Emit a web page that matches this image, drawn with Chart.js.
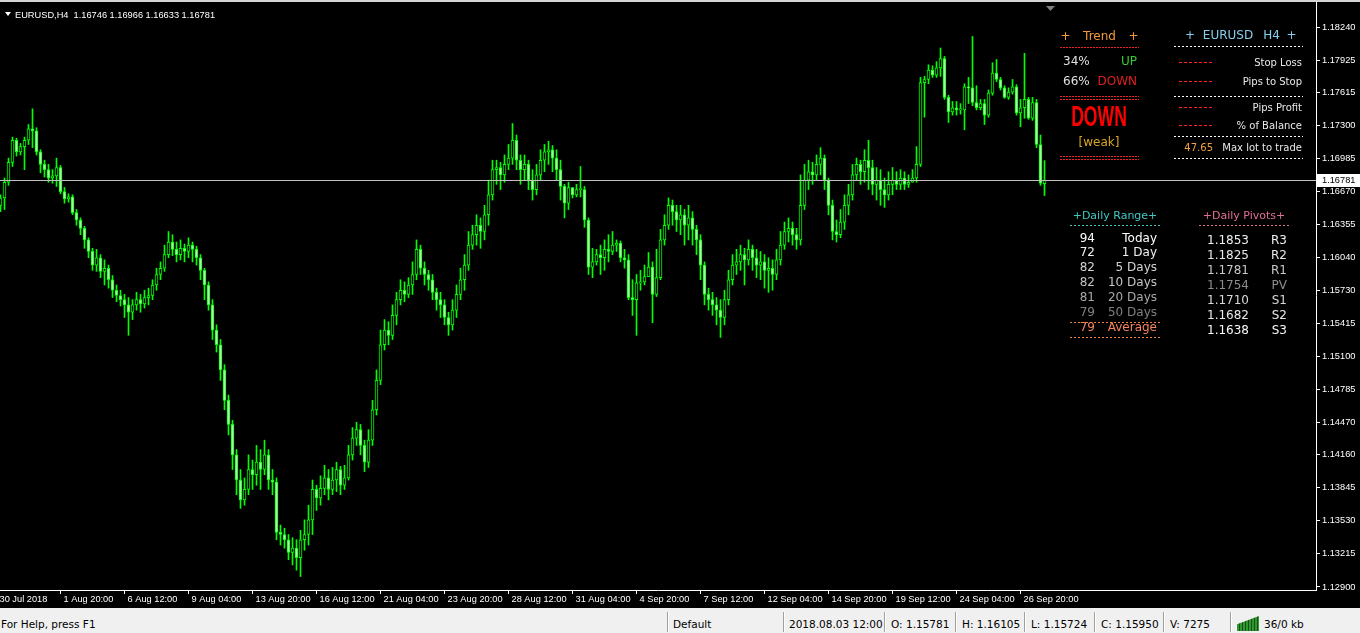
<!DOCTYPE html>
<html>
<head>
<meta charset="utf-8">
<title>EURUSD,H4</title>
<script src="https://cdn.jsdelivr.net/npm/chart.js@4.4.1/dist/chart.umd.min.js"></script>
<style>
  html, body { margin: 0; padding: 0; background: #000; width: 1360px; height: 633px; overflow: hidden; }
  #wrap { position: relative; width: 1360px; height: 608px; }
  #topline { position: absolute; left: 0; top: 0; width: 1360px; height: 2px; background: #d4d4d4; }
  #status { position: absolute; left: 0; top: 608px; width: 1360px; height: 25px; background: #f0f0f0;
            font: 10.5px "DejaVu Sans", sans-serif; color: #000; }
  #status span { position: absolute; top: 10px; line-height: 12px; white-space: nowrap; }
  #status .sep { position: absolute; top: 4px; width: 1px; height: 20px; background: #a0a0a0; border-right: 1px solid #fff; }
  #status .icon { position: absolute; left: 1237px; top: 8px; width: 22px; height: 15px;
                  background: repeating-linear-gradient(90deg, #2e9a2e 0 2px, #1c4d1c 2px 3px);
                  clip-path: polygon(0 55%, 100% 0, 100% 100%, 0 100%); }
</style>
</head>
<body>
<div id="wrap">
  <canvas id="chart" width="1360" height="608"></canvas>
  <div id="topline"></div>
</div>
<div id="status">
  <span style="left:1px">For Help, press F1</span>
  <div class="sep" style="left:667px"></div>
  <span style="left:673px">Default</span>
  <div class="sep" style="left:783px"></div>
  <span style="left:789px">2018.08.03 12:00</span>
  <div class="sep" style="left:884px"></div>
  <span style="left:891px">O: 1.15781</span>
  <div class="sep" style="left:955px"></div>
  <span style="left:962px">H: 1.16105</span>
  <div class="sep" style="left:1024px"></div>
  <span style="left:1031px">L: 1.15724</span>
  <div class="sep" style="left:1094px"></div>
  <span style="left:1101px">C: 1.15950</span>
  <div class="sep" style="left:1163px"></div>
  <span style="left:1170px">V: 7275</span>
  <div class="sep" style="left:1230px"></div>
  <div class="icon"></div>
  <span style="left:1264px">36/0 kb</span>
</div>
<script>
// EURUSD H4 bars, one entry per candle (bar 0 = leftmost)
const opens = [
  1.1654, 1.1661, 1.1676, 1.1695, 1.1716, 1.1705, 1.1710, 1.1716, 1.1727, 1.1725,
  1.1705, 1.1693, 1.1688, 1.1680, 1.1682, 1.1690, 1.1667, 1.1660, 1.1662, 1.1647,
  1.1640, 1.1632, 1.1621, 1.1610, 1.1597, 1.1604, 1.1591, 1.1594, 1.1583, 1.1573,
  1.1568, 1.1564, 1.1559, 1.1552, 1.1559, 1.1564, 1.1560, 1.1566, 1.1568, 1.1578,
  1.1588, 1.1594, 1.1607, 1.1619, 1.1612, 1.1607, 1.1613, 1.1610, 1.1616, 1.1612,
  1.1604, 1.1592, 1.1578, 1.1559, 1.1535, 1.1521, 1.1497, 1.1468, 1.1445, 1.1416,
  1.1392, 1.1373, 1.1383, 1.1402, 1.1397, 1.1409, 1.1402, 1.1416, 1.1392, 1.1390,
  1.1342, 1.1340, 1.1335, 1.1323, 1.1327, 1.1318, 1.1335, 1.1340, 1.1354, 1.1383,
  1.1375, 1.1384, 1.1394, 1.1383, 1.1392, 1.1402, 1.1387, 1.1394, 1.1416, 1.1432,
  1.1440, 1.1425, 1.1409, 1.1430, 1.1459, 1.1487, 1.1521, 1.1535, 1.1530, 1.1549,
  1.1564, 1.1573, 1.1569, 1.1578, 1.1588, 1.1612, 1.1594, 1.1588, 1.1583, 1.1571,
  1.1564, 1.1559, 1.1547, 1.1540, 1.1554, 1.1569, 1.1583, 1.1597, 1.1616, 1.1626,
  1.1635, 1.1629, 1.1645, 1.1664, 1.1688, 1.1690, 1.1683, 1.1693, 1.1699, 1.1716,
  1.1697, 1.1688, 1.1693, 1.1678, 1.1669, 1.1683, 1.1697, 1.1705, 1.1707, 1.1699,
  1.1688, 1.1672, 1.1656, 1.1671, 1.1664, 1.1669, 1.1669, 1.1640, 1.1595, 1.1600,
  1.1607, 1.1604, 1.1612, 1.1610, 1.1616, 1.1618, 1.1604, 1.1602, 1.1566, 1.1564,
  1.1580, 1.1581, 1.1586, 1.1595, 1.1569, 1.1585, 1.1621, 1.1635, 1.1654, 1.1648,
  1.1640, 1.1645, 1.1635, 1.1642, 1.1631, 1.1621, 1.1597, 1.1569, 1.1564, 1.1559,
  1.1554, 1.1547, 1.1564, 1.1583, 1.1597, 1.1600, 1.1607, 1.1602, 1.1612, 1.1604,
  1.1597, 1.1600, 1.1592, 1.1594, 1.1588, 1.1602, 1.1616, 1.1629, 1.1632, 1.1626,
  1.1621, 1.1654, 1.1678, 1.1686, 1.1683, 1.1693, 1.1699, 1.1678, 1.1654, 1.1629,
  1.1626, 1.1638, 1.1654, 1.1664, 1.1683, 1.1693, 1.1686, 1.1697, 1.1690, 1.1674,
  1.1678, 1.1669, 1.1664, 1.1674, 1.1678, 1.1674, 1.1680, 1.1674, 1.1676, 1.1680,
  1.1693, 1.1771, 1.1774, 1.1783, 1.1778, 1.1785, 1.1794, 1.1757, 1.1743, 1.1747,
  1.1745, 1.1745, 1.1767, 1.1766, 1.1752, 1.1747, 1.1751, 1.1740, 1.1761, 1.1780,
  1.1774, 1.1766, 1.1757, 1.1762, 1.1767, 1.1742, 1.1747, 1.1755, 1.1737, 1.1752,
  1.1712, 1.16746
];
const highs = [
  1.1664, 1.1680, 1.1699, 1.1719, 1.1718, 1.1713, 1.1719, 1.1731, 1.1746, 1.1728,
  1.1707, 1.1697, 1.1693, 1.1688, 1.1699, 1.1692, 1.1671, 1.1665, 1.1664, 1.1650,
  1.1642, 1.1634, 1.1623, 1.1613, 1.1612, 1.1607, 1.1602, 1.1597, 1.1587, 1.1578,
  1.1573, 1.1569, 1.1566, 1.1564, 1.1571, 1.1569, 1.1573, 1.1575, 1.1583, 1.1594,
  1.1600, 1.1616, 1.1629, 1.1626, 1.1619, 1.1621, 1.1617, 1.1623, 1.1619, 1.1615,
  1.1607, 1.1594, 1.1581, 1.1564, 1.1540, 1.1526, 1.1502, 1.1473, 1.1449, 1.1421,
  1.1402, 1.1394, 1.1416, 1.1411, 1.1425, 1.1421, 1.1430, 1.1421, 1.1402, 1.1394,
  1.1349, 1.1346, 1.1340, 1.1337, 1.1335, 1.1344, 1.1354, 1.1368, 1.1392, 1.1387,
  1.1396, 1.1406, 1.1402, 1.1404, 1.1409, 1.1405, 1.1406, 1.1425, 1.1442, 1.1447,
  1.1445, 1.1430, 1.1440, 1.1468, 1.1497, 1.1535, 1.1545, 1.1543, 1.1559, 1.1571,
  1.1583, 1.1581, 1.1585, 1.1600, 1.1621, 1.1616, 1.1600, 1.1592, 1.1588, 1.1575,
  1.1571, 1.1564, 1.1552, 1.1564, 1.1578, 1.1594, 1.1607, 1.1629, 1.1635, 1.1645,
  1.1642, 1.1654, 1.1678, 1.1697, 1.1697, 1.1695, 1.1702, 1.1712, 1.1732, 1.1721,
  1.1702, 1.1702, 1.1697, 1.1688, 1.1693, 1.1707, 1.1712, 1.1715, 1.1711, 1.1707,
  1.1697, 1.1674, 1.1676, 1.1671, 1.1674, 1.1691, 1.1672, 1.1642, 1.1613, 1.1612,
  1.1616, 1.1621, 1.1626, 1.1629, 1.1621, 1.1620, 1.1612, 1.1607, 1.1583, 1.1588,
  1.1592, 1.1597, 1.1609, 1.1600, 1.1612, 1.1631, 1.1645, 1.1661, 1.1659, 1.1654,
  1.1654, 1.1650, 1.1654, 1.1648, 1.1635, 1.1626, 1.1600, 1.1575, 1.1571, 1.1566,
  1.1564, 1.1573, 1.1592, 1.1607, 1.1612, 1.1616, 1.1613, 1.1621, 1.1616, 1.1612,
  1.1610, 1.1607, 1.1604, 1.1602, 1.1612, 1.1629, 1.1638, 1.1642, 1.1638, 1.1632,
  1.1683, 1.1693, 1.1697, 1.1695, 1.1702, 1.1709, 1.1702, 1.1680, 1.1659, 1.1640,
  1.1650, 1.1664, 1.1674, 1.1693, 1.1699, 1.1697, 1.1707, 1.1716, 1.1697, 1.1690,
  1.1688, 1.1680, 1.1686, 1.1690, 1.1686, 1.1688, 1.1686, 1.1683, 1.1688, 1.1710,
  1.1776, 1.1777, 1.1788, 1.1787, 1.1791, 1.1804, 1.1796, 1.1759, 1.1753, 1.1753,
  1.1751, 1.1770, 1.1776, 1.1815, 1.1768, 1.1755, 1.1755, 1.1764, 1.1790, 1.1793,
  1.1776, 1.1768, 1.1766, 1.1774, 1.1769, 1.1755, 1.1799, 1.1757, 1.1757, 1.1755,
  1.1721, 1.16966
];
const lows = [
  1.1648, 1.1650, 1.1673, 1.1691, 1.1701, 1.1702, 1.1688, 1.1712, 1.1709, 1.1702,
  1.1685, 1.1681, 1.1676, 1.1675, 1.1672, 1.1665, 1.1656, 1.1657, 1.1645, 1.1635,
  1.1626, 1.1613, 1.1604, 1.1592, 1.1591, 1.1585, 1.1578, 1.1575, 1.1566, 1.1562,
  1.1558, 1.1547, 1.1530, 1.1545, 1.1554, 1.1552, 1.1556, 1.1559, 1.1564, 1.1573,
  1.1583, 1.1591, 1.1604, 1.1606, 1.1600, 1.1602, 1.1600, 1.1604, 1.1600, 1.1597,
  1.1583, 1.1564, 1.1554, 1.1526, 1.1514, 1.1487, 1.1459, 1.1435, 1.1402, 1.1378,
  1.1365, 1.1368, 1.1378, 1.1383, 1.1387, 1.1383, 1.1397, 1.1383, 1.1378, 1.1335,
  1.1330, 1.1327, 1.1316, 1.1311, 1.1306, 1.1300, 1.1325, 1.1330, 1.1340, 1.1363,
  1.1368, 1.1378, 1.1373, 1.1378, 1.1381, 1.1378, 1.1383, 1.1392, 1.1411, 1.1425,
  1.1416, 1.1400, 1.1404, 1.1425, 1.1454, 1.1483, 1.1516, 1.1521, 1.1526, 1.1540,
  1.1559, 1.1562, 1.1566, 1.1569, 1.1583, 1.1588, 1.1578, 1.1573, 1.1564, 1.1554,
  1.1547, 1.1540, 1.1530, 1.1535, 1.1547, 1.1564, 1.1573, 1.1592, 1.1612, 1.1616,
  1.1613, 1.1621, 1.1635, 1.1659, 1.1674, 1.1669, 1.1676, 1.1688, 1.1693, 1.1688,
  1.1674, 1.1678, 1.1669, 1.1659, 1.1664, 1.1678, 1.1686, 1.1693, 1.1686, 1.1678,
  1.1659, 1.1642, 1.1650, 1.1661, 1.1662, 1.1662, 1.1633, 1.1588, 1.1585, 1.1597,
  1.1588, 1.1592, 1.1600, 1.1607, 1.1610, 1.1600, 1.1594, 1.1564, 1.1549, 1.1530,
  1.1573, 1.1578, 1.1586, 1.1542, 1.1567, 1.1583, 1.1616, 1.1631, 1.1635, 1.1629,
  1.1626, 1.1616, 1.1621, 1.1616, 1.1607, 1.1583, 1.1559, 1.1554, 1.1549, 1.1540,
  1.1528, 1.1540, 1.1559, 1.1578, 1.1588, 1.1592, 1.1578, 1.1597, 1.1592, 1.1585,
  1.1583, 1.1575, 1.1571, 1.1573, 1.1583, 1.1597, 1.1612, 1.1619, 1.1616, 1.1612,
  1.1616, 1.1650, 1.1669, 1.1674, 1.1678, 1.1683, 1.1669, 1.1645, 1.1621, 1.1619,
  1.1623, 1.1631, 1.1645, 1.1659, 1.1678, 1.1674, 1.1676, 1.1669, 1.1664, 1.1659,
  1.1654, 1.1652, 1.1659, 1.1664, 1.1669, 1.1669, 1.1669, 1.1671, 1.1676, 1.1676,
  1.1691, 1.1738, 1.1770, 1.1776, 1.1776, 1.1777, 1.1755, 1.1733, 1.1740, 1.1740,
  1.1741, 1.1726, 1.1751, 1.1749, 1.1745, 1.1745, 1.1731, 1.1738, 1.1759, 1.1772,
  1.1764, 1.1756, 1.1755, 1.1760, 1.1740, 1.1729, 1.1737, 1.1736, 1.1735, 1.1709,
  1.1673, 1.16633
];
const closes = [
  1.1661, 1.1676, 1.1695, 1.1716, 1.1705, 1.1710, 1.1716, 1.1727, 1.1725, 1.1705,
  1.1693, 1.1688, 1.1680, 1.1682, 1.1690, 1.1667, 1.1660, 1.1662, 1.1647, 1.1640,
  1.1632, 1.1621, 1.1610, 1.1597, 1.1604, 1.1591, 1.1594, 1.1583, 1.1573, 1.1568,
  1.1564, 1.1559, 1.1552, 1.1559, 1.1564, 1.1560, 1.1566, 1.1568, 1.1578, 1.1588,
  1.1594, 1.1607, 1.1619, 1.1612, 1.1607, 1.1613, 1.1610, 1.1616, 1.1612, 1.1604,
  1.1592, 1.1578, 1.1559, 1.1535, 1.1521, 1.1497, 1.1468, 1.1445, 1.1416, 1.1392,
  1.1373, 1.1383, 1.1402, 1.1397, 1.1409, 1.1402, 1.1416, 1.1392, 1.1390, 1.1342,
  1.1340, 1.1335, 1.1323, 1.1327, 1.1318, 1.1335, 1.1340, 1.1354, 1.1383, 1.1375,
  1.1384, 1.1394, 1.1383, 1.1392, 1.1402, 1.1387, 1.1394, 1.1416, 1.1432, 1.1440,
  1.1425, 1.1409, 1.1430, 1.1459, 1.1487, 1.1521, 1.1535, 1.1530, 1.1549, 1.1564,
  1.1573, 1.1569, 1.1578, 1.1588, 1.1612, 1.1594, 1.1588, 1.1583, 1.1571, 1.1564,
  1.1559, 1.1547, 1.1540, 1.1554, 1.1569, 1.1583, 1.1597, 1.1616, 1.1626, 1.1635,
  1.1629, 1.1645, 1.1664, 1.1688, 1.1690, 1.1683, 1.1693, 1.1699, 1.1716, 1.1697,
  1.1688, 1.1693, 1.1678, 1.1669, 1.1683, 1.1697, 1.1705, 1.1707, 1.1699, 1.1688,
  1.1672, 1.1656, 1.1671, 1.1664, 1.1669, 1.1669, 1.1640, 1.1595, 1.1600, 1.1607,
  1.1604, 1.1612, 1.1610, 1.1616, 1.1618, 1.1604, 1.1602, 1.1566, 1.1564, 1.1580,
  1.1581, 1.1586, 1.1595, 1.1569, 1.1585, 1.1621, 1.1635, 1.1654, 1.1648, 1.1640,
  1.1645, 1.1635, 1.1642, 1.1631, 1.1621, 1.1597, 1.1569, 1.1564, 1.1559, 1.1554,
  1.1547, 1.1564, 1.1583, 1.1597, 1.1600, 1.1607, 1.1602, 1.1612, 1.1604, 1.1597,
  1.1600, 1.1592, 1.1594, 1.1588, 1.1602, 1.1616, 1.1629, 1.1632, 1.1626, 1.1621,
  1.1654, 1.1678, 1.1686, 1.1683, 1.1693, 1.1699, 1.1678, 1.1654, 1.1629, 1.1626,
  1.1638, 1.1654, 1.1664, 1.1683, 1.1693, 1.1686, 1.1697, 1.1690, 1.1674, 1.1678,
  1.1669, 1.1664, 1.1674, 1.1678, 1.1674, 1.1680, 1.1674, 1.1676, 1.1680, 1.1693,
  1.1771, 1.1774, 1.1783, 1.1778, 1.1785, 1.1794, 1.1757, 1.1743, 1.1747, 1.1745,
  1.1745, 1.1767, 1.1766, 1.1752, 1.1747, 1.1751, 1.1740, 1.1761, 1.1780, 1.1774,
  1.1766, 1.1757, 1.1762, 1.1767, 1.1742, 1.1747, 1.1755, 1.1737, 1.1752, 1.1712,
  1.1675, 1.16781
];

// time axis: bar index of each label and its text
const xTickBars = [-1, 15, 31, 47, 63, 79, 95, 111, 127, 143, 159, 175, 191, 207, 223, 239, 255];
const xTickLabels = [
  "30 Jul 2018", "1 Aug 20:00", "6 Aug 12:00", "9 Aug 04:00", "13 Aug 20:00", "16 Aug 12:00",
  "21 Aug 04:00", "23 Aug 20:00", "28 Aug 12:00", "31 Aug 04:00", "4 Sep 20:00", "7 Sep 12:00",
  "12 Sep 04:00", "14 Sep 20:00", "19 Sep 12:00", "24 Sep 04:00", "26 Sep 20:00"
];
const yTickValues = [
  1.18240, 1.17925, 1.17615, 1.17300, 1.16985, 1.16670, 1.16355, 1.16040, 1.15730,
  1.15415, 1.15100, 1.14785, 1.14470, 1.14160, 1.13845, 1.13530, 1.13215, 1.12900
];

// indicator panel values
const trendPct = [34, 66];
const maxLot = 47.65;
const rangeNames = ["Today", "1 Day", "5 Days", "10 Days", "20 Days", "50 Days"];
const rangeValues = [94, 72, 82, 82, 81, 79];
const rangeAverage = 79;
const pivotNames = ["R3", "R2", "R1", "PV", "S1", "S2", "S3"];
const pivotValues = [1.1853, 1.1825, 1.1781, 1.1754, 1.1710, 1.1682, 1.1638];

const axisFont = '9.25px "Liberation Sans"';

function txt(ctx, s, x, y, color, font, align) {
  ctx.font = font;
  ctx.fillStyle = color;
  ctx.textAlign = align || "left";
  ctx.textBaseline = "middle";
  ctx.fillText(s, x, y);
}

// dotted separator built from 1px tall pieces, like the text dashes of the indicator
function dash(ctx, x1, x2, y, color, on, off) {
  ctx.fillStyle = color;
  for (let x = x1; x < x2; x += on + off) {
    ctx.fillRect(x, y, Math.min(on, x2 - x), 1);
  }
}

const mt4Overlay = {
  id: "mt4Overlay",
  afterDatasetsDraw(chart) {
    const ctx = chart.ctx;
    const area = chart.chartArea;
    const bidY = Math.round(chart.scales.y.getPixelForValue(closes[closes.length - 1])) + 0.5;
    ctx.save();
    ctx.strokeStyle = "#c0c0c0";
    ctx.lineWidth = 1;
    ctx.beginPath();
    ctx.moveTo(area.left, bidY);
    ctx.lineTo(area.right, bidY);
    ctx.stroke();
    ctx.restore();
  },
  afterDraw(chart) {
    const ctx = chart.ctx;
    const last = closes.length - 1;
    ctx.save();

    // bid price label on the price axis
    const by = Math.round(chart.scales.y.getPixelForValue(closes[last]));
    ctx.fillStyle = "#fff";
    ctx.fillRect(chart.chartArea.right + 1, by - 6, 43, 13);
    txt(ctx, closes[last].toFixed(5), 1322, by + 0.5, "#000", axisFont);

    // chart shift marker
    ctx.fillStyle = "#808080";
    ctx.beginPath();
    ctx.moveTo(1046, 6); ctx.lineTo(1055, 6); ctx.lineTo(1050.5, 11); ctx.closePath();
    ctx.fill();

    // symbol header
    ctx.fillStyle = "#fff";
    ctx.beginPath();
    ctx.moveTo(5, 12); ctx.lineTo(11, 12); ctx.lineTo(8, 16); ctx.closePath();
    ctx.fill();
    const ohlc = [opens[last], highs[last], lows[last], closes[last]].map((v) => v.toFixed(5)).join(" ");
    txt(ctx, "EURUSD,H4  " + ohlc, 15, 15, "#fff", axisFont);

    // trend block
    const f12 = '12px "DejaVu Sans"';
    const orange = "#f59a3a";
    const red = "#ee2222";
    txt(ctx, "+", 1065.5, 37, orange, f12, "center");
    txt(ctx, "Trend", 1099.5, 37, orange, f12, "center");
    txt(ctx, "+", 1133.5, 37, orange, f12, "center");
    dash(ctx, 1060, 1139, 47, red, 2, 1);
    txt(ctx, trendPct[0] + "%", 1063, 62, "#e0e0e0", f12);
    txt(ctx, "UP", 1137, 62, "#33cc33", f12, "right");
    txt(ctx, trendPct[1] + "%", 1063, 82, "#e0e0e0", f12);
    txt(ctx, "DOWN", 1137, 82, "#e02020", f12, "right");
    dash(ctx, 1060, 1139, 96, red, 2, 1);
    dash(ctx, 1060, 1139, 99, red, 2, 1);
    ctx.save();
    ctx.translate(1099, 118);
    ctx.scale(0.8, 1.3);
    txt(ctx, "DOWN", 0, 0, "#ff0000", 'bold 22px "Liberation Sans"', "center");
    ctx.restore();
    txt(ctx, "[weak]", 1099, 143, "#daa520", f12, "center");
    dash(ctx, 1060, 1139, 156, red, 2, 1);
    dash(ctx, 1060, 1139, 159, red, 2, 1);

    // money management block
    const blue = "#87ceeb";
    const f10 = '10px "DejaVu Sans"';
    const white = "#e8e8e8";
    txt(ctx, "+", 1190, 36, blue, f12, "center");
    txt(ctx, "EURUSD", 1228, 36, blue, f12, "center");
    txt(ctx, "H4", 1271.5, 36, blue, f12, "center");
    txt(ctx, "+", 1291.5, 36, blue, f12, "center");
    dash(ctx, 1174, 1303, 46, "#ffffff", 2, 2);
    [62, 81, 107, 125].forEach((y) => dash(ctx, 1179, 1213, y, "#ff2020", 3, 2));
    txt(ctx, "Stop Loss", 1302, 63, white, f10, "right");
    txt(ctx, "Pips to Stop", 1302, 82, white, f10, "right");
    dash(ctx, 1174, 1303, 96, "#ffffff", 2, 2);
    txt(ctx, "Pips Profit", 1302, 108, white, f10, "right");
    txt(ctx, "% of Balance", 1302, 126, white, f10, "right");
    dash(ctx, 1174, 1303, 136, "#ffffff", 2, 2);
    txt(ctx, maxLot.toFixed(2), 1213, 148, "#f0a040", f10, "right");
    txt(ctx, "Max lot to trade", 1302, 148, white, f10, "right");
    dash(ctx, 1174, 1303, 158, "#ffffff", 2, 2);

    // daily range block
    const f11 = '11px "DejaVu Sans"';
    txt(ctx, "+Daily Range+", 1115, 216, "#40c8c0", f11, "center");
    dash(ctx, 1070, 1160, 225, "#40c8c0", 2, 2);
    const rangeY = [239, 253, 268, 283, 298, 313];
    const rangeColors = ["#ffffff", "#f0f0f0", "#d4d4d4", "#c4c4c4", "#a8a8a8", "#808080"];
    rangeNames.forEach((name, i) => {
      txt(ctx, String(rangeValues[i]), 1095, rangeY[i], rangeColors[i], f12, "right");
      txt(ctx, name, 1157, rangeY[i], rangeColors[i], f12, "right");
    });
    dash(ctx, 1070, 1160, 322, "#f08040", 2, 2);
    txt(ctx, String(rangeAverage), 1095, 328, "#f4845c", f12, "right");
    txt(ctx, "Average", 1157, 328, "#f4845c", f12, "right");
    dash(ctx, 1070, 1160, 337, "#f08040", 2, 2);

    // daily pivots block
    txt(ctx, "+Daily Pivots+", 1244, 216, "#e07090", f11, "center");
    dash(ctx, 1199, 1290, 225, "#e07090", 2, 2);
    const pivotColors = ["#f0f0f0", "#e8e8e8", "#c8c8c8", "#8c8c8c", "#d8d8d8", "#e8e8e8", "#f8f8f8"];
    pivotNames.forEach((name, i) => {
      const y = 241 + i * 15;
      txt(ctx, pivotValues[i].toFixed(4), 1207, y, pivotColors[i], f12);
      txt(ctx, name, 1287, y, pivotColors[i], f12, "right");
    });

    ctx.restore();
  },
};

document.addEventListener("DOMContentLoaded", () => {
  const wicks = closes.map((c, i) => ({ x: i, y: [lows[i], highs[i]] }));
  const bodies = closes.map((c, i) => ({ x: i, y: [opens[i], c] }));
  const bodyFill = closes.map((c, i) => (c >= opens[i] ? "#000000" : "#b4ffb4"));

  new Chart(document.getElementById("chart"), {
    type: "bar",
    data: {
      datasets: [
        {
          data: wicks,
          backgroundColor: "#00ff00",
          barThickness: 1,
          grouped: false,
          order: 2,
        },
        {
          data: bodies,
          backgroundColor: bodyFill,
          borderColor: "#00ff00",
          borderWidth: 1,
          borderSkipped: false,
          barThickness: 3,
          minBarLength: 1,
          grouped: false,
          order: 1,
        },
      ],
    },
    options: {
      responsive: false,
      animation: false,
      devicePixelRatio: 1,
      events: [],
      layout: { padding: 0 },
      plugins: {
        legend: { display: false },
        tooltip: { enabled: false },
      },
      scales: {
        x: {
          type: "linear",
          min: -0.125,
          max: 328.875,
          offset: false,
          afterBuildTicks: (scale) => {
            scale.ticks = xTickBars.map((v) => ({ value: v }));
          },
          afterFit: (scale) => {
            scale.height = 18;
            scale.paddingLeft = 0;
            scale.paddingRight = 0;
          },
          ticks: {
            autoSkip: false,
            maxRotation: 0,
            align: "start",
            labelOffset: 3,
            padding: 0,
            color: "#ffffff",
            font: { family: "Liberation Sans", size: 9.25 },
            callback: (value, index) => xTickLabels[index],
          },
          grid: { drawOnChartArea: false, drawTicks: true, tickLength: 4, color: "#ffffff", offset: false },
          border: { display: true, color: "#ffffff" },
        },
        y: {
          position: "right",
          min: 1.12871,
          max: 1.18498,
          afterBuildTicks: (scale) => {
            scale.ticks = yTickValues.map((v) => ({ value: v }));
          },
          afterFit: (scale) => {
            scale.width = 44;
            scale.paddingTop = 0;
            scale.paddingBottom = 0;
          },
          ticks: {
            padding: 2,
            color: "#ffffff",
            font: { family: "Liberation Sans", size: 9.25 },
            callback: (value) => value.toFixed(5),
          },
          grid: { drawOnChartArea: false, drawTicks: true, tickLength: 4, color: "#ffffff" },
          border: { display: true, color: "#ffffff" },
        },
      },
    },
    plugins: [mt4Overlay],
  });
});
</script>
</body>
</html>
